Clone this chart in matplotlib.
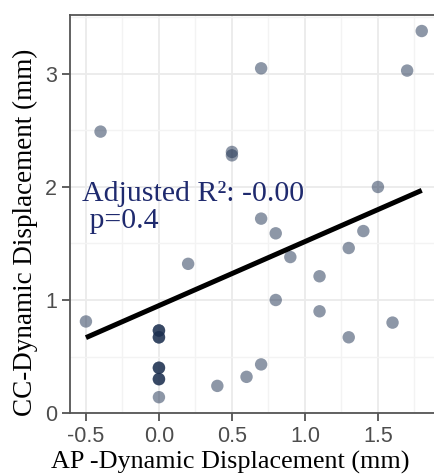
import numpy as np
import matplotlib
matplotlib.use("Agg")
from matplotlib import pyplot as plt
from matplotlib.ticker import MultipleLocator

# AP vs CC dynamic displacement (mm); count = points stacked on the same spot
ap_disp = [1.80, 0.70, 1.70, -0.40, 0.50, 0.50, 1.50, 0.70, 0.80, 1.40, 1.30, 0.90,
           0.20, 1.10, 0.80, 1.10, -0.50, 1.60, 1.30, 0.00, 0.00, 0.00, 0.00, 0.00,
           0.40, 0.60, 0.70]
cc_disp = [3.38, 3.05, 3.03, 2.49, 2.28, 2.31, 2.00, 1.72, 1.59, 1.61, 1.46, 1.38,
           1.32, 1.21, 1.00, 0.90, 0.81, 0.80, 0.67, 0.73, 0.67, 0.40, 0.30, 0.14,
           0.24, 0.32, 0.43]
count = [1, 1, 1, 1, 1, 1, 1, 1, 1, 1, 1, 1,
         1, 1, 1, 1, 1, 1, 1, 3, 3, 3, 3, 1,
         1, 1, 1]

# fitted line end points
fit_x = [-0.5, 1.8]
fit_y = [0.667, 1.97]

x_ticks = [-0.5, 0.0, 0.5, 1.0, 1.5]
y_ticks = [0, 1, 2, 3]

fig = plt.figure(figsize=(4.34, 4.75), dpi=100)
ax = fig.add_axes([0.161, 0.1305, 0.839, 0.8375])

xs = np.repeat(ap_disp, count)
ys = np.repeat(cc_disp, count)

ax.grid(True, which='major', color='#EBEBEB', linewidth=1.3, zorder=0)
ax.grid(True, which='minor', color='#F3F3F3', linewidth=1.0, zorder=0)
ax.set_axisbelow(True)

ax.scatter(xs, ys, s=80, color='#1d3050', alpha=0.5, edgecolors='none', zorder=3)
ax.plot(fit_x, fit_y, color='black', linewidth=3.6, solid_capstyle='butt', zorder=4)

ax.text(-0.525, 1.82, "Adjusted R²: -0.00\n p=0.4", color='#1f2a6e', fontsize=21.5,
        family='Liberation Serif', va='center', ha='left', linespacing=1.05, zorder=5)

ax.set_xlim(-0.61, 1.884)
ax.set_ylim(0, 3.52)
ax.set_xticks(x_ticks)
ax.set_xticklabels([f"{v:.1f}" for v in x_ticks])
ax.set_yticks(y_ticks)
ax.xaxis.set_minor_locator(MultipleLocator(0.25))
ax.yaxis.set_minor_locator(MultipleLocator(0.5))

for s in ['left', 'bottom', 'top']:
    ax.spines[s].set_color('#555555')
    ax.spines[s].set_linewidth(1.3)
ax.spines['right'].set_visible(False)

ax.tick_params(which='major', length=6, width=1.2, color='#444444', labelcolor='#4D4D4D',
               labelsize=15.5, pad=3)
ax.tick_params(which='minor', length=0)
for lab in ax.get_xticklabels() + ax.get_yticklabels():
    lab.set_family('Liberation Sans')

ax.set_xlabel("AP -Dynamic Displacement (mm)", family='Liberation Serif', fontsize=18.8)
ax.set_ylabel("CC-Dynamic Displacement (mm)", family='Liberation Serif', fontsize=19.5)
ax.xaxis.set_label_coords(0.441, -0.094)
ax.yaxis.set_label_coords(-0.088, 0.455)

fig.savefig("out.png", dpi=100)
